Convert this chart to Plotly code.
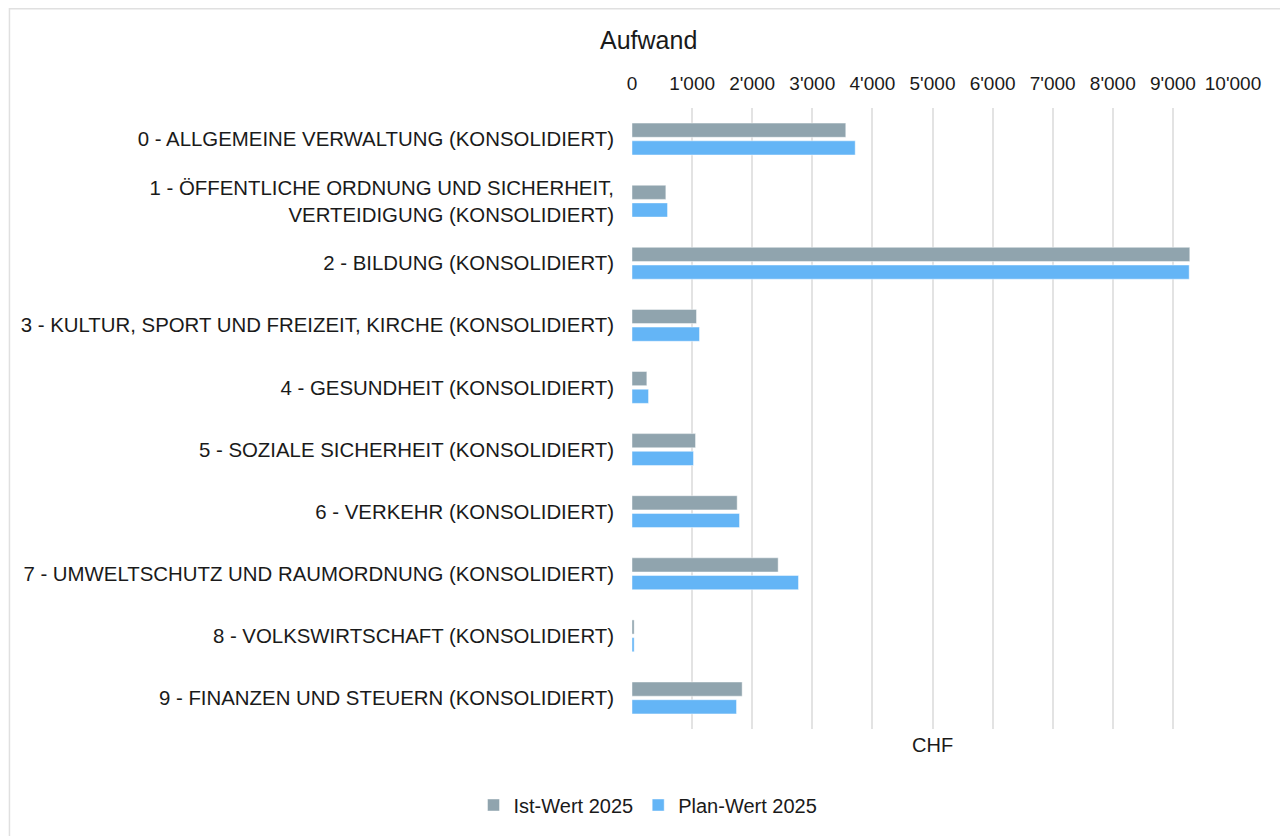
import plotly.graph_objects as go

categories = [
    "0 - ALLGEMEINE VERWALTUNG (KONSOLIDIERT)",
    "1 - ÖFFENTLICHE ORDNUNG UND SICHERHEIT,<br>VERTEIDIGUNG (KONSOLIDIERT)",
    "2 - BILDUNG (KONSOLIDIERT)",
    "3 - KULTUR, SPORT UND FREIZEIT, KIRCHE (KONSOLIDIERT)",
    "4 - GESUNDHEIT (KONSOLIDIERT)",
    "5 - SOZIALE SICHERHEIT (KONSOLIDIERT)",
    "6 - VERKEHR (KONSOLIDIERT)",
    "7 - UMWELTSCHUTZ UND RAUMORDNUNG (KONSOLIDIERT)",
    "8 - VOLKSWIRTSCHAFT (KONSOLIDIERT)",
    "9 - FINANZEN UND STEUERN (KONSOLIDIERT)",
]
ist_2025 = [3557, 563, 9281, 1073, 247, 1057, 1750, 2432, 36, 1833]
plan_2025 = [3714, 591, 9271, 1123, 275, 1023, 1789, 2770, 36, 1739]

tick_vals = [0, 1000, 2000, 3000, 4000, 5000, 6000, 7000, 8000, 9000, 10000]
tick_text = ["0", "1'000", "2'000", "3'000", "4'000", "5'000", "6'000", "7'000", "8'000", "9'000", "10'000"]

FONT = "Liberation Sans, Arial, sans-serif"
OFF = 8  # page body margin
W, H = 1288 - OFF, 836 - OFF


def px(x):
    return x - OFF


L = px(631.5)
T = px(108)
R = W - px(1232.7)
B = H - px(729)
pw = W - L - R
ph = H - T - B


def xp(x):  # page x -> paper
    return (px(x) - L) / pw


def yp(y):  # page y -> paper
    return (px(729) - px(y)) / ph


fig = go.Figure()
fig.add_trace(go.Bar(
    y=categories, x=ist_2025, orientation="h", name="Ist-Wert 2025",
    marker=dict(color="#90A4AE", line=dict(color="rgba(255,255,255,0.45)", width=1)),
))
fig.add_trace(go.Bar(
    y=categories, x=plan_2025, orientation="h", name="Plan-Wert 2025",
    marker=dict(color="#64B5F6", line=dict(color="rgba(255,255,255,0.45)", width=1)),
))

fig.update_layout(
    width=W, height=H,
    margin=dict(l=L, r=R, t=T, b=B, autoexpand=False),
    paper_bgcolor="white", plot_bgcolor="white",
    barmode="group", bargap=0.43, bargroupgap=0.2,
    font=dict(family=FONT, size=20, color="#1a1a1a"),
    title=dict(text="Aufwand", x=px(600) / W, xanchor="left", xref="container",
               y=1 - px(40) / H, yanchor="middle", yref="container",
               font=dict(size=25, color="#1a1a1a")),
    showlegend=True,
    legend=dict(orientation="h", xref="container", yref="container",
                x=px(648) / W, xanchor="center", y=1 - px(805) / H, yanchor="middle",
                font=dict(size=20), itemwidth=30, traceorder="normal",
                bgcolor="rgba(0,0,0,0)"),
    xaxis=dict(side="top", range=[0, 10000], tickvals=tick_vals, ticktext=tick_text,
               showgrid=True, gridcolor="#e3e3e3", gridwidth=1.5,
               zeroline=False, showline=False, ticks="", ticklabelstandoff=13,
               tickfont=dict(size=19)),
    yaxis=dict(autorange="reversed", showgrid=False, zeroline=False, showline=False,
               ticks="", ticklabelstandoff=17, tickfont=dict(size=20.4)),
    annotations=[dict(text="CHF", xref="paper", yref="paper", x=0.5, y=yp(745),
                      xanchor="center", yanchor="middle", showarrow=False,
                      font=dict(size=20, color="#1a1a1a"))],
    shapes=[dict(type="rect", xref="paper", yref="paper",
                 x0=xp(8.75), x1=xp(1310),
                 y0=yp(860), y1=yp(8.75),
                 line=dict(color="#e0e0e0", width=1.5), fillcolor="rgba(0,0,0,0)",
                 layer="below")],
)

fig.write_html("out.html")
